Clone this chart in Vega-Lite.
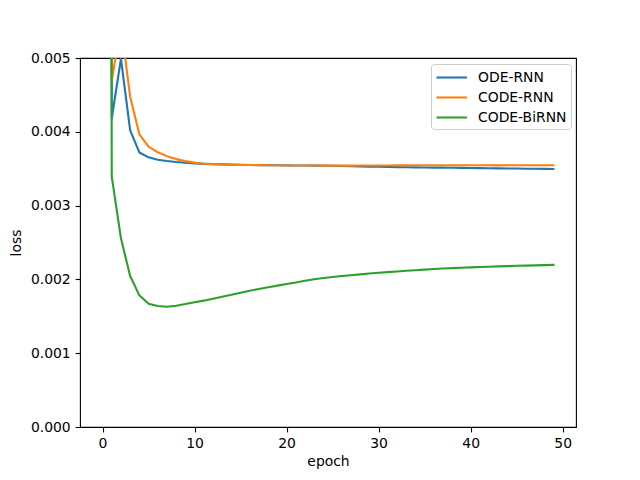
{
  "$schema": "https://vega.github.io/schema/vega-lite/v6.json",
  "description": "Training loss per epoch for ODE-RNN, CODE-RNN and CODE-BiRNN.",
  "width": 496,
  "height": 369,
  "autosize": {"type": "none"},
  "padding": {"left": 80, "top": 58, "right": 64, "bottom": 53},
  "background": "white",
  "config": {
    "font": "DejaVu Sans",
    "view": {"stroke": "black", "strokeWidth": 1.1},
    "axis": {
      "grid": false,
      "domain": false,
      "tickColor": "black",
      "tickSize": 4.9,
      "tickWidth": 1.1,
      "labelFont": "DejaVu Sans",
      "labelFontSize": 13.9,
      "labelColor": "black",
      "labelPadding": 4.9,
      "titleFont": "DejaVu Sans",
      "titleFontSize": 13.9,
      "titleFontWeight": "normal",
      "titleColor": "black"
    }
  },
  "data": {
    "values": [
      {"epoch": 0, "model": "ODE-RNN", "loss": 0.11},
      {"epoch": 1, "model": "ODE-RNN", "loss": 0.00418},
      {"epoch": 2, "model": "ODE-RNN", "loss": 0.00499},
      {"epoch": 3, "model": "ODE-RNN", "loss": 0.00402},
      {"epoch": 4, "model": "ODE-RNN", "loss": 0.00372},
      {"epoch": 5, "model": "ODE-RNN", "loss": 0.003654},
      {"epoch": 6, "model": "ODE-RNN", "loss": 0.003622},
      {"epoch": 7, "model": "ODE-RNN", "loss": 0.003604},
      {"epoch": 8, "model": "ODE-RNN", "loss": 0.003591},
      {"epoch": 9, "model": "ODE-RNN", "loss": 0.003581},
      {"epoch": 10, "model": "ODE-RNN", "loss": 0.003572},
      {"epoch": 11, "model": "ODE-RNN", "loss": 0.003566},
      {"epoch": 12, "model": "ODE-RNN", "loss": 0.003562},
      {"epoch": 13, "model": "ODE-RNN", "loss": 0.003558},
      {"epoch": 14, "model": "ODE-RNN", "loss": 0.003555},
      {"epoch": 15, "model": "ODE-RNN", "loss": 0.003552},
      {"epoch": 16, "model": "ODE-RNN", "loss": 0.00355},
      {"epoch": 17, "model": "ODE-RNN", "loss": 0.003549},
      {"epoch": 18, "model": "ODE-RNN", "loss": 0.003548},
      {"epoch": 19, "model": "ODE-RNN", "loss": 0.003547},
      {"epoch": 20, "model": "ODE-RNN", "loss": 0.003545},
      {"epoch": 21, "model": "ODE-RNN", "loss": 0.003544},
      {"epoch": 22, "model": "ODE-RNN", "loss": 0.003543},
      {"epoch": 23, "model": "ODE-RNN", "loss": 0.003542},
      {"epoch": 24, "model": "ODE-RNN", "loss": 0.003541},
      {"epoch": 25, "model": "ODE-RNN", "loss": 0.00354},
      {"epoch": 26, "model": "ODE-RNN", "loss": 0.003537},
      {"epoch": 27, "model": "ODE-RNN", "loss": 0.003533},
      {"epoch": 28, "model": "ODE-RNN", "loss": 0.00353},
      {"epoch": 29, "model": "ODE-RNN", "loss": 0.003528},
      {"epoch": 30, "model": "ODE-RNN", "loss": 0.003526},
      {"epoch": 31, "model": "ODE-RNN", "loss": 0.003524},
      {"epoch": 32, "model": "ODE-RNN", "loss": 0.003522},
      {"epoch": 33, "model": "ODE-RNN", "loss": 0.00352},
      {"epoch": 34, "model": "ODE-RNN", "loss": 0.003518},
      {"epoch": 35, "model": "ODE-RNN", "loss": 0.003517},
      {"epoch": 36, "model": "ODE-RNN", "loss": 0.003515},
      {"epoch": 37, "model": "ODE-RNN", "loss": 0.003514},
      {"epoch": 38, "model": "ODE-RNN", "loss": 0.003512},
      {"epoch": 39, "model": "ODE-RNN", "loss": 0.003511},
      {"epoch": 40, "model": "ODE-RNN", "loss": 0.00351},
      {"epoch": 41, "model": "ODE-RNN", "loss": 0.003508},
      {"epoch": 42, "model": "ODE-RNN", "loss": 0.003506},
      {"epoch": 43, "model": "ODE-RNN", "loss": 0.003505},
      {"epoch": 44, "model": "ODE-RNN", "loss": 0.003503},
      {"epoch": 45, "model": "ODE-RNN", "loss": 0.003502},
      {"epoch": 46, "model": "ODE-RNN", "loss": 0.0035},
      {"epoch": 47, "model": "ODE-RNN", "loss": 0.003499},
      {"epoch": 48, "model": "ODE-RNN", "loss": 0.003498},
      {"epoch": 49, "model": "ODE-RNN", "loss": 0.003496},
      {"epoch": 0, "model": "CODE-RNN", "loss": 0.1},
      {"epoch": 1, "model": "CODE-RNN", "loss": 0.00469},
      {"epoch": 2, "model": "CODE-RNN", "loss": 0.00545},
      {"epoch": 3, "model": "CODE-RNN", "loss": 0.004476},
      {"epoch": 4, "model": "CODE-RNN", "loss": 0.003966},
      {"epoch": 5, "model": "CODE-RNN", "loss": 0.003798},
      {"epoch": 6, "model": "CODE-RNN", "loss": 0.003722},
      {"epoch": 7, "model": "CODE-RNN", "loss": 0.00367},
      {"epoch": 8, "model": "CODE-RNN", "loss": 0.00363},
      {"epoch": 9, "model": "CODE-RNN", "loss": 0.003603},
      {"epoch": 10, "model": "CODE-RNN", "loss": 0.003582},
      {"epoch": 11, "model": "CODE-RNN", "loss": 0.003568},
      {"epoch": 12, "model": "CODE-RNN", "loss": 0.003562},
      {"epoch": 13, "model": "CODE-RNN", "loss": 0.003557},
      {"epoch": 14, "model": "CODE-RNN", "loss": 0.003553},
      {"epoch": 15, "model": "CODE-RNN", "loss": 0.003551},
      {"epoch": 16, "model": "CODE-RNN", "loss": 0.00355},
      {"epoch": 17, "model": "CODE-RNN", "loss": 0.003548},
      {"epoch": 18, "model": "CODE-RNN", "loss": 0.003546},
      {"epoch": 19, "model": "CODE-RNN", "loss": 0.003544},
      {"epoch": 20, "model": "CODE-RNN", "loss": 0.003543},
      {"epoch": 21, "model": "CODE-RNN", "loss": 0.003543},
      {"epoch": 22, "model": "CODE-RNN", "loss": 0.003544},
      {"epoch": 23, "model": "CODE-RNN", "loss": 0.003543},
      {"epoch": 24, "model": "CODE-RNN", "loss": 0.003542},
      {"epoch": 25, "model": "CODE-RNN", "loss": 0.003542},
      {"epoch": 26, "model": "CODE-RNN", "loss": 0.003541},
      {"epoch": 27, "model": "CODE-RNN", "loss": 0.003542},
      {"epoch": 28, "model": "CODE-RNN", "loss": 0.003543},
      {"epoch": 29, "model": "CODE-RNN", "loss": 0.003543},
      {"epoch": 30, "model": "CODE-RNN", "loss": 0.003544},
      {"epoch": 31, "model": "CODE-RNN", "loss": 0.003544},
      {"epoch": 32, "model": "CODE-RNN", "loss": 0.003545},
      {"epoch": 33, "model": "CODE-RNN", "loss": 0.003545},
      {"epoch": 34, "model": "CODE-RNN", "loss": 0.003546},
      {"epoch": 35, "model": "CODE-RNN", "loss": 0.003546},
      {"epoch": 36, "model": "CODE-RNN", "loss": 0.003547},
      {"epoch": 37, "model": "CODE-RNN", "loss": 0.003547},
      {"epoch": 38, "model": "CODE-RNN", "loss": 0.003546},
      {"epoch": 39, "model": "CODE-RNN", "loss": 0.003546},
      {"epoch": 40, "model": "CODE-RNN", "loss": 0.003547},
      {"epoch": 41, "model": "CODE-RNN", "loss": 0.003546},
      {"epoch": 42, "model": "CODE-RNN", "loss": 0.003546},
      {"epoch": 43, "model": "CODE-RNN", "loss": 0.003545},
      {"epoch": 44, "model": "CODE-RNN", "loss": 0.003546},
      {"epoch": 45, "model": "CODE-RNN", "loss": 0.003547},
      {"epoch": 46, "model": "CODE-RNN", "loss": 0.003547},
      {"epoch": 47, "model": "CODE-RNN", "loss": 0.003547},
      {"epoch": 48, "model": "CODE-RNN", "loss": 0.003546},
      {"epoch": 49, "model": "CODE-RNN", "loss": 0.003546},
      {"epoch": 0, "model": "CODE-BiRNN", "loss": 0.09},
      {"epoch": 1, "model": "CODE-BiRNN", "loss": 0.003392},
      {"epoch": 2, "model": "CODE-BiRNN", "loss": 0.002557},
      {"epoch": 3, "model": "CODE-BiRNN", "loss": 0.002046},
      {"epoch": 4, "model": "CODE-BiRNN", "loss": 0.001784},
      {"epoch": 5, "model": "CODE-BiRNN", "loss": 0.001671},
      {"epoch": 6, "model": "CODE-BiRNN", "loss": 0.00164},
      {"epoch": 7, "model": "CODE-BiRNN", "loss": 0.00163},
      {"epoch": 8, "model": "CODE-BiRNN", "loss": 0.001644},
      {"epoch": 9, "model": "CODE-BiRNN", "loss": 0.001667},
      {"epoch": 10, "model": "CODE-BiRNN", "loss": 0.00169},
      {"epoch": 11, "model": "CODE-BiRNN", "loss": 0.001712},
      {"epoch": 12, "model": "CODE-BiRNN", "loss": 0.001739},
      {"epoch": 13, "model": "CODE-BiRNN", "loss": 0.001766},
      {"epoch": 14, "model": "CODE-BiRNN", "loss": 0.001793},
      {"epoch": 15, "model": "CODE-BiRNN", "loss": 0.00182},
      {"epoch": 16, "model": "CODE-BiRNN", "loss": 0.001847},
      {"epoch": 17, "model": "CODE-BiRNN", "loss": 0.00187},
      {"epoch": 18, "model": "CODE-BiRNN", "loss": 0.001893},
      {"epoch": 19, "model": "CODE-BiRNN", "loss": 0.001916},
      {"epoch": 20, "model": "CODE-BiRNN", "loss": 0.001938},
      {"epoch": 21, "model": "CODE-BiRNN", "loss": 0.001958},
      {"epoch": 22, "model": "CODE-BiRNN", "loss": 0.001982},
      {"epoch": 23, "model": "CODE-BiRNN", "loss": 0.002002},
      {"epoch": 24, "model": "CODE-BiRNN", "loss": 0.002018},
      {"epoch": 25, "model": "CODE-BiRNN", "loss": 0.002032},
      {"epoch": 26, "model": "CODE-BiRNN", "loss": 0.002045},
      {"epoch": 27, "model": "CODE-BiRNN", "loss": 0.002056},
      {"epoch": 28, "model": "CODE-BiRNN", "loss": 0.002068},
      {"epoch": 29, "model": "CODE-BiRNN", "loss": 0.002079},
      {"epoch": 30, "model": "CODE-BiRNN", "loss": 0.00209},
      {"epoch": 31, "model": "CODE-BiRNN", "loss": 0.002099},
      {"epoch": 32, "model": "CODE-BiRNN", "loss": 0.002108},
      {"epoch": 33, "model": "CODE-BiRNN", "loss": 0.002117},
      {"epoch": 34, "model": "CODE-BiRNN", "loss": 0.002125},
      {"epoch": 35, "model": "CODE-BiRNN", "loss": 0.002133},
      {"epoch": 36, "model": "CODE-BiRNN", "loss": 0.00214},
      {"epoch": 37, "model": "CODE-BiRNN", "loss": 0.002147},
      {"epoch": 38, "model": "CODE-BiRNN", "loss": 0.002153},
      {"epoch": 39, "model": "CODE-BiRNN", "loss": 0.002158},
      {"epoch": 40, "model": "CODE-BiRNN", "loss": 0.002163},
      {"epoch": 41, "model": "CODE-BiRNN", "loss": 0.002168},
      {"epoch": 42, "model": "CODE-BiRNN", "loss": 0.002172},
      {"epoch": 43, "model": "CODE-BiRNN", "loss": 0.002176},
      {"epoch": 44, "model": "CODE-BiRNN", "loss": 0.00218},
      {"epoch": 45, "model": "CODE-BiRNN", "loss": 0.002184},
      {"epoch": 46, "model": "CODE-BiRNN", "loss": 0.002187},
      {"epoch": 47, "model": "CODE-BiRNN", "loss": 0.00219},
      {"epoch": 48, "model": "CODE-BiRNN", "loss": 0.002193},
      {"epoch": 49, "model": "CODE-BiRNN", "loss": 0.002196}
    ]
  },
  "mark": {
    "type": "line",
    "strokeWidth": 2.1,
    "strokeJoin": "round",
    "strokeCap": "square",
    "clip": true
  },
  "encoding": {
    "x": {
      "field": "epoch",
      "type": "quantitative",
      "title": "epoch",
      "scale": {"domain": [-2.45, 51.45], "nice": false, "zero": false},
      "axis": {"values": [0, 10, 20, 30, 40, 50], "titlePadding": 4}
    },
    "y": {
      "field": "loss",
      "type": "quantitative",
      "title": "loss",
      "scale": {"domain": [0, 0.005], "nice": false},
      "axis": {"values": [0, 0.001, 0.002, 0.003, 0.004, 0.005], "format": ".3f", "titlePadding": 7}
    },
    "color": {
      "field": "model",
      "type": "nominal",
      "sort": ["ODE-RNN", "CODE-RNN", "CODE-BiRNN"],
      "scale": {
        "domain": ["ODE-RNN", "CODE-RNN", "CODE-BiRNN"],
        "range": ["#1f77b4", "#ff7f0e", "#2ca02c"]
      },
      "legend": {
        "title": null,
        "orient": "none",
        "legendX": 351,
        "legendY": 6,
        "symbolType": "M-1,0H2.8",
        "symbolSize": 256,
        "symbolStrokeWidth": 2.1,
        "symbolFillColor": "transparent",
        "labelFont": "DejaVu Sans",
        "labelFontSize": 13.9,
        "labelColor": "black",
        "labelOffset": 24,
        "rowPadding": 3,
        "padding": 4,
        "strokeColor": "#cccccc",
        "fillColor": "white",
        "cornerRadius": 3
      }
    }
  }
}
